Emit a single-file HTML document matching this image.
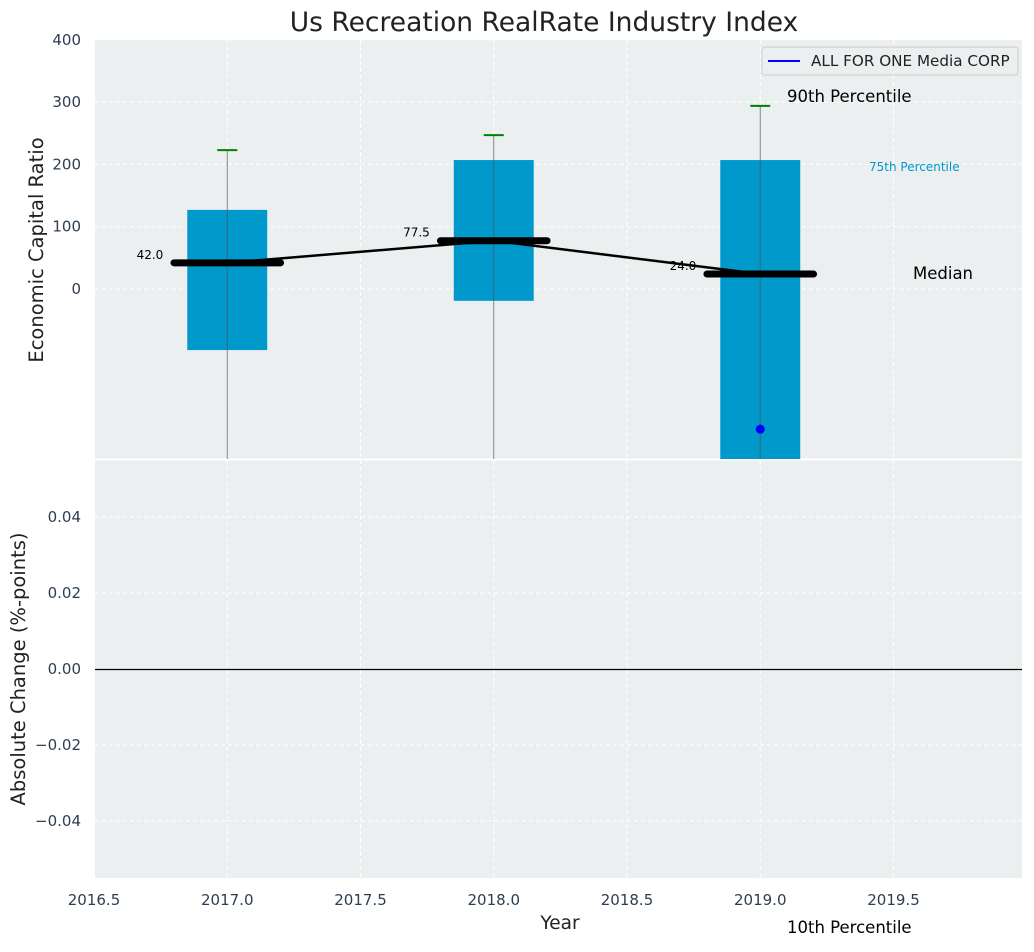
<!DOCTYPE html>
<html><head><meta charset="utf-8"><style>
body{margin:0;background:#fff;font-family:"Liberation Sans","DejaVu Sans",sans-serif}
</style></head><body>
<svg id="c" width="1034" height="947" xmlns="http://www.w3.org/2000/svg" font-family="DejaVu Sans, Liberation Sans, sans-serif"></svg>
<script>
const years=[2017,2018,2019];
const q75=[127,207,207];
const q25=[-98,-19,-300];
const p90=[223,247,294];
const p10=[-400,-400,-400];
const medians=[42,77.5,24];
const medianLabels=["42.0","77.5","24.0"];
const companyYears=[2019];
const companyVals=[-225];
const yTicksTop=[0,100,200,300,400];
const yTicksBot=[-0.04,-0.02,0,0.02,0.04];
const xTicks=[2016.5,2017,2017.5,2018,2018.5,2019,2019.5];

const svg=document.getElementById('c');const NS='http://www.w3.org/2000/svg';
function el(t,a,p){const e=document.createElementNS(NS,t);for(const k in a)e.setAttribute(k,a[k]);(p||svg).appendChild(e);return e;}
const L=95,R=1022,T1=40,B1=459,T2=460,B2=878;
const x=v=>94+(v-2016.5)*266.5;
const y1=v=>289-v*0.623;
const y2=v=>669-v*3800;
const cl=v=>Math.max(T1,Math.min(B1,y1(v)));

let r=el('rect',{x:L,y:T1,width:R-L,height:B1-T1,fill:'#ebeff0'});

r=el('rect',{x:L,y:T2,width:R-L,height:B2-T2,fill:'#ebeff0'});


xTicks.forEach(v=>{[[T1,B1],[T2,B2]].forEach(([a,b])=>{const g=el('line',{x1:x(v),x2:x(v),y1:a,y2:b,stroke:'#fff','stroke-dasharray':'4,3','stroke-width':1});});
 const t=el('text',{x:x(v),y:905,'text-anchor':'middle','font-size':15,fill:'#2d3e50'});t.textContent=v.toFixed(1);});
yTicksTop.forEach(v=>{const g=el('line',{x1:L,x2:R,y1:y1(v),y2:y1(v),stroke:'#fff','stroke-dasharray':'4,3'});
 const t=el('text',{x:81,y:y1(v)+5,'text-anchor':'end','font-size':15,fill:'#2d3e50'});t.textContent=v;});
yTicksBot.forEach(v=>{const g=el('line',{x1:L,x2:R,y1:y2(v),y2:y2(v),stroke:'#fff','stroke-dasharray':'4,3'});
 const t=el('text',{x:81,y:y2(v)+5,'text-anchor':'end','font-size':15,fill:'#2d3e50'});t.textContent=(v<0?'\u2212':'')+Math.abs(v).toFixed(2);});
let z=el('line',{x1:L,x2:R,y1:669.5,y2:669.5,stroke:'#000','stroke-width':1.3});
el('line',{x1:L,x2:R,y1:459.5,y2:459.5,stroke:'#fff','stroke-width':2});

years.forEach((yr,i)=>{
 const b=el('rect',{x:x(yr-0.15),width:x(yr+0.15)-x(yr-0.15),y:cl(q75[i]),height:cl(q25[i])-cl(q75[i]),fill:'#0099cc'});
 
 const w=el('line',{x1:x(yr),x2:x(yr),y1:cl(p90[i]),y2:cl(p10[i]),stroke:'#555','stroke-width':1,opacity:0.7});
 
 const c=el('line',{x1:x(yr)-10,x2:x(yr)+10,y1:y1(p90[i]),y2:y1(p90[i]),stroke:'green','stroke-width':2});
 
});
let pts=years.map((yr,i)=>x(yr)+','+y1(medians[i])).join(' ');
let ml=el('polyline',{points:pts,fill:'none',stroke:'#000','stroke-width':2.5});
years.forEach((yr,i)=>{
 const m=el('line',{x1:x(yr-0.2),x2:x(yr+0.2),y1:y1(medians[i]),y2:y1(medians[i]),stroke:'#000','stroke-width':7,'stroke-linecap':'round'});
 
 const t=el('text',{x:x(yr-0.24),y:y1(medians[i])-4,'text-anchor':'end','font-size':12,fill:'#000'});t.textContent=medianLabels[i];
 
});
companyYears.forEach((yr,i)=>{const p=el('circle',{cx:x(yr),cy:y1(companyVals[i]),r:4.5,fill:'#0000ff'});});

function txt(s,a,n){const t=el('text',a);t.textContent=s;return t;}
txt('Us Recreation RealRate Industry Index',{x:544,y:31,'text-anchor':'middle','font-size':26.5,fill:'#222'},'chart-title');
txt('90th Percentile',{x:787,y:102,'font-size':16.5,fill:'#000'},'p90-annotation');
txt('75th Percentile',{x:869,y:171,'font-size':12,fill:'#0099cc'},'p75-annotation');
txt('Median',{x:913,y:279,'font-size':16.5,fill:'#000'},'median-annotation');
txt('10th Percentile',{x:787,y:933,'font-size':16.5,fill:'#000'},'p10-annotation');
txt('Year',{x:560,y:929,'text-anchor':'middle','font-size':18.5,fill:'#222'},'x-axis-title');
txt('Economic Capital Ratio',{x:0,y:0,'text-anchor':'middle','font-size':19.5,fill:'#222',transform:'translate(43,250) rotate(-90)'},'y-axis-title-top');
txt('Absolute Change (%-points)',{x:0,y:0,'text-anchor':'middle','font-size':19.5,fill:'#222',transform:'translate(25,669) rotate(-90)'},'y-axis-title-bottom');
const lg=el('g',{});
el('rect',{x:762,y:47,width:256,height:28,rx:3,fill:'#ebeff0',stroke:'#ccc'},lg);
el('line',{x1:768,x2:800,y1:61,y2:61,stroke:'#0000ff','stroke-width':2},lg);
const lt=el('text',{x:811,y:66,'font-size':15.2,fill:'#222'},lg);lt.textContent='ALL FOR ONE Media CORP';
</script>
</body></html>
